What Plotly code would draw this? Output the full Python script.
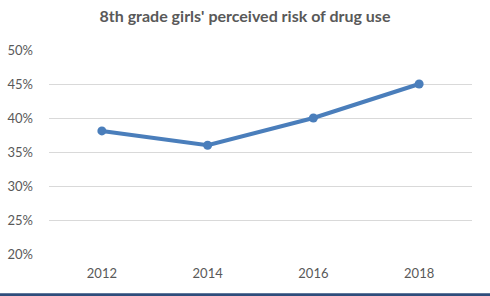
import plotly.graph_objects as go

years = ["2012", "2014", "2016", "2018"]
risk = [0.381, 0.360, 0.400, 0.450]
y_ticks = [0.20, 0.25, 0.30, 0.35, 0.40, 0.45, 0.50]
y_tick_labels = ["20%", "25%", "30%", "35%", "40%", "45%", "50%"]

fig = go.Figure()
fig.add_trace(go.Scatter(
    x=years, y=risk, mode="lines+markers",
    line=dict(color="#4A7EBB", width=4),
    marker=dict(color="#4A7EBB", size=9),
    showlegend=False, hoverinfo="skip",
))

fig.update_layout(
    width=490, height=296,
    margin=dict(l=49, r=18, t=50, b=42),
    paper_bgcolor="white", plot_bgcolor="white",
    title=dict(text="<b>8th grade girls' perceived risk of drug use</b>",
               x=0.5, xanchor="center", y=0.945, yanchor="middle",
               font=dict(family="Lato, Open Sans, sans-serif", size=16, color="#595959")),
    font=dict(family="Lato, Open Sans, sans-serif", size=13, color="#595959"),
    xaxis=dict(type="category", range=[-0.5, 3.5], showgrid=False, showline=False,
               zeroline=False, ticks="", tickfont=dict(size=13, color="#595959"),
               ticklabelstandoff=10, automargin=False),
    yaxis=dict(range=[0.2, 0.5], tickvals=y_ticks, ticktext=y_tick_labels,
               showgrid=True, gridcolor="#D9D9D9", gridwidth=1, zeroline=False,
               showline=False, ticks="", ticklabelstandoff=15, automargin=False,
               tickfont=dict(size=13, color="#595959")),
    shapes=[
        dict(type="line", xref="paper", yref="paper", x0=-0.2, x1=1.2,
             y0=-0.2, y1=-0.2, line=dict(color="#2E4D7B", width=3)),
    ],
)

fig.write_html("out.html", config={"displayModeBar": False},
               post_script="document.body.style.margin='0';")
